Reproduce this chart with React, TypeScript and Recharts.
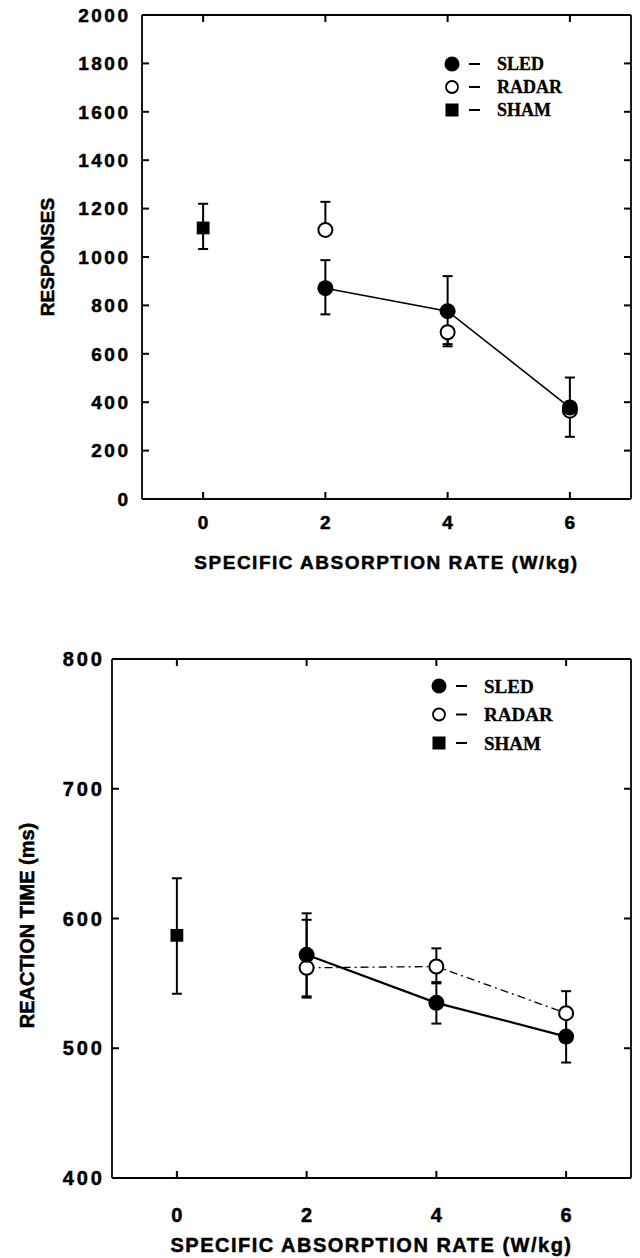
import React from 'react';
import { ComposedChart, Line, XAxis, YAxis, ErrorBar, Legend, ReferenceLine } from 'recharts';

// x axis: specific absorption rate (W/kg)
const sarTicks = [0, 2, 4, 6];
const sarLevels = [2, 4, 6];
const shamLevel = [0];

// top panel: responses
const respTicks = [0, 200, 400, 600, 800, 1000, 1200, 1400, 1600, 1800, 2000];
const respSled = [871, 776, 378];
const respSledLow = [763, 640, 257];
const respSledHigh = [987, 921, 502];
const respRadar = [1112, 689, 365];
const respRadarLow = [1112, 631, 365];
const respRadarHigh = [1228, 689, 365];
const respSham = [1120];
const respShamLow = [1033];
const respShamHigh = [1220];

// bottom panel: reaction time (ms)
const rtTicks = [400, 500, 600, 700, 800];
const rtSled = [572, 535, 509];
const rtSledLow = [540, 519, 489];
const rtSledHigh = [604, 551, 528];
const rtRadar = [562, 563, 527];
const rtRadarLow = [539, 550, 510];
const rtRadarHigh = [599, 577, 544];
const rtSham = [587];
const rtShamLow = [542];
const rtShamHigh = [631];

const legendOrder = ['SLED', 'RADAR', 'SHAM'];
const xDomain: [number, number] = [-1, 7];

const toRows = (xs: number[], ys: number[], lo: number[], hi: number[]) =>
  xs.map((x, i) => ({ x, y: ys[i], err: [ys[i] - lo[i], hi[i] - ys[i]] }));

const sans = '"Liberation Sans", Arial, sans-serif';
const serif = '"Liberation Serif", "Times New Roman", serif';
const axisStroke = { stroke: '#000', strokeWidth: 1.8 };
const TICK_LEN = 7;

const filledDot = (r: number) => (p: any) => (
  <circle key={`f${p.index}`} cx={p.cx} cy={p.cy} r={r} fill="#000" />
);
const openDot = (r: number) => (p: any) => (
  <circle key={`o${p.index}`} cx={p.cx} cy={p.cy} r={r} fill="#fff" stroke="#000" strokeWidth={2} />
);
const squareDot = (s: number) => (p: any) => (
  <rect key={`s${p.index}`} x={p.cx - s / 2} y={p.cy - s / 2} width={s} height={s} fill="#000" />
);

const Marker = ({ name, x, y, r }: { name: string; x: number; y: number; r: number }) => {
  if (name === 'SLED') return <circle cx={x} cy={y} r={r} fill="#000" />;
  if (name === 'RADAR') return <circle cx={x} cy={y} r={r - 1.5} fill="#fff" stroke="#000" strokeWidth={1.8} />;
  return <rect x={x - r + 1} y={y - r + 1} width={2 * r - 2} height={2 * r - 2} fill="#000" />;
};

interface PanelProps {
  top: number;
  height: number;
  marginTop: number;
  yAxisWidth: number;
  xAxisHeight: number;
  yDomain: [number, number];
  yTicks: number[];
  yTitle: string;
  yTitleX: number;
  yTitleShift: number;
  fontSize: number;
  tickSpacing: number;
  yTickMargin: number;
  xTickMargin: number;
  xTitleDy: number;
  sled: any[];
  radar: any[];
  sham: any[];
  radarLine: boolean;
  lineWidth: number;
  dotR: number;
  legendLeft: number;
  legendTop: number;
  legendGap: number;
  legendFont: number;
}

const RIGHT_MARGIN = 8;

const Panel = (c: PanelProps) => {
  const textStyle = {
    fontFamily: sans,
    fontWeight: 700,
    fontSize: c.fontSize,
    fill: '#000',
    stroke: '#000',
    strokeWidth: 0.5,
  };

  // inward tick length expressed in axis units
  const plotW = 640 - c.yAxisWidth - RIGHT_MARGIN - 1;
  const plotH = c.height - c.marginTop - c.xAxisHeight;
  const [y0, y1] = c.yDomain;
  const [x0, x1] = xDomain;
  const dy = ((y1 - y0) * TICK_LEN) / plotH;
  const dx = ((x1 - x0) * TICK_LEN) / plotW;
  const tickSegs: { x: number; y: number }[][] = [
    ...sarTicks.flatMap((t) => [
      [{ x: t, y: y0 }, { x: t, y: y0 + dy }],
      [{ x: t, y: y1 }, { x: t, y: y1 - dy }],
    ]),
    ...c.yTicks.flatMap((v) => [
      [{ x: x0, y: v }, { x: x0 + dx, y: v }],
      [{ x: x1, y: v }, { x: x1 - dx, y: v }],
    ]),
  ];

  const bottomTick = (p: any) => (
    <text key={`b${p.index}`} x={p.x + c.tickSpacing / 2} y={p.y} dy="0.71em" textAnchor="middle" letterSpacing={c.tickSpacing} {...textStyle}>
      {p.payload.value}
    </text>
  );
  const leftTick = (p: any) => (
    <text key={`l${p.index}`} x={p.x + c.tickSpacing} y={p.y} dy="0.36em" textAnchor="end" letterSpacing={c.tickSpacing} {...textStyle}>
      {p.payload.value}
    </text>
  );

  const renderLegend = ({ payload }: any) => {
    const items = [...(payload || [])]
      .filter((a: any) => legendOrder.includes(a.value))
      .sort((a: any, b: any) => legendOrder.indexOf(a.value) - legendOrder.indexOf(b.value));
    return (
      <svg width={170} height={c.legendGap * 3 + 10}>
        {items.map((it: any, i: number) => {
          const y = 14 + i * c.legendGap;
          return (
            <g key={it.value}>
              <Marker name={it.value} x={13} y={y} r={c.dotR - 0.5} />
              <line x1={30} x2={41} y1={y} y2={y} stroke="#000" strokeWidth={2} />
              <text
                x={58}
                y={y}
                dominantBaseline="central"
                fontFamily={serif}
                fontWeight={700}
                fontSize={c.legendFont}
                fill="#000"
                stroke="#000"
                strokeWidth={0.3}
              >
                {it.value}
              </text>
            </g>
          );
        })}
      </svg>
    );
  };

  return (
    <div style={{ position: 'absolute', left: 0, top: c.top }}>
      <ComposedChart
        width={640}
        height={c.height}
        margin={{ top: c.marginTop - 1, right: RIGHT_MARGIN, bottom: 0, left: 0 }}
      >
        <XAxis
          dataKey="x"
          type="number"
          domain={xDomain}
          ticks={sarTicks}
          height={c.xAxisHeight}
          tickSize={0}
          tickMargin={c.xTickMargin}
          axisLine={axisStroke}
          tickLine={false}
          tick={bottomTick}
          allowDataOverflow
          label={{
            content: ({ viewBox }: any) => (
              <text
                x={viewBox.x + viewBox.width / 2}
                y={viewBox.y + c.xTitleDy}
                textAnchor="middle"
                letterSpacing={1.5}
                {...textStyle}
              >
                SPECIFIC ABSORPTION RATE (W/kg)
              </text>
            ),
          }}
        />
        <XAxis
          xAxisId="top"
          orientation="top"
          dataKey="x"
          type="number"
          domain={xDomain}
          ticks={sarTicks}
          height={1}
          axisLine={axisStroke}
          tickLine={false}
          tick={false}
          allowDataOverflow
        />
        <YAxis
          type="number"
          domain={c.yDomain}
          ticks={c.yTicks}
          width={c.yAxisWidth}
          tickSize={0}
          tickMargin={c.yTickMargin}
          axisLine={axisStroke}
          tickLine={false}
          tick={leftTick}
          allowDataOverflow
          label={{
            content: ({ viewBox }: any) => {
              const cy = viewBox.y + viewBox.height / 2 + c.yTitleShift;
              return (
                <text
                  transform={`translate(${c.yTitleX},${cy}) rotate(-90)`}
                  textAnchor="middle"
                  dominantBaseline="central"
                  {...textStyle}
                >
                  {c.yTitle}
                </text>
              );
            },
          }}
        />
        <YAxis
          yAxisId="right"
          orientation="right"
          type="number"
          domain={c.yDomain}
          ticks={c.yTicks}
          width={1}
          axisLine={axisStroke}
          tickLine={false}
          tick={false}
          allowDataOverflow
        />
        <Legend
          content={renderLegend}
          verticalAlign="middle"
          layout="horizontal"
          wrapperStyle={{ left: c.legendLeft, top: c.legendTop, width: 170 }}
        />
        {tickSegs.map((seg, i) => (
          <ReferenceLine
            key={`tick${i}`}
            segment={seg}
            stroke="#000"
            strokeWidth={2}
            ifOverflow="visible"
          />
        ))}
        {/* invisible series so the mirrored top/right axes are drawn as the frame */}
        <Line
          xAxisId="top"
          yAxisId="right"
          data={c.sham}
          dataKey="y"
          stroke="none"
          dot={false}
          activeDot={false}
          legendType="none"
          isAnimationActive={false}
        />
        <Line
          data={c.sham}
          dataKey="y"
          name="SHAM"
          stroke="none"
          dot={squareDot(c.dotR * 1.6)}
          activeDot={false}
          isAnimationActive={false}
        >
          <ErrorBar dataKey="err" width={5} stroke="#000" strokeWidth={2} direction="y" />
        </Line>
        <Line
          data={c.radar}
          dataKey="y"
          name="RADAR"
          stroke={c.radarLine ? '#000' : 'none'}
          strokeWidth={1.3}
          strokeDasharray="8 4 2 4"
          dot={openDot(c.dotR - 1)}
          activeDot={false}
          isAnimationActive={false}
        >
          <ErrorBar dataKey="err" width={5} stroke="#000" strokeWidth={2} direction="y" />
        </Line>
        <Line
          data={c.sled}
          dataKey="y"
          name="SLED"
          stroke="#000"
          strokeWidth={c.lineWidth}
          dot={filledDot(c.dotR)}
          activeDot={false}
          isAnimationActive={false}
        >
          <ErrorBar dataKey="err" width={5} stroke="#000" strokeWidth={2} direction="y" />
        </Line>
      </ComposedChart>
    </div>
  );
};

export default function App() {
  return (
    <div style={{ position: 'absolute', left: 0, top: 0, width: 640, height: 1258, background: '#fff' }}>
      <Panel
        top={0}
        height={590}
        marginTop={15}
        yAxisWidth={142}
        xAxisHeight={91}
        yDomain={[0, 2000]}
        yTicks={respTicks}
        yTitle="RESPONSES"
        yTitleX={47}
        yTitleShift={0}
        fontSize={19}
        tickSpacing={2.5}
        yTickMargin={14}
        xTickMargin={17}
        xTitleDy={70}
        sled={toRows(sarLevels, respSled, respSledLow, respSledHigh)}
        radar={toRows(sarLevels, respRadar, respRadarLow, respRadarHigh)}
        sham={toRows(shamLevel, respSham, respShamLow, respShamHigh)}
        radarLine={false}
        lineWidth={1.6}
        dotR={8}
        legendLeft={439}
        legendTop={50}
        legendGap={23}
        legendFont={18}
      />
      <Panel
        top={600}
        height={658}
        marginTop={59}
        yAxisWidth={112}
        xAxisHeight={80}
        yDomain={[400, 800]}
        yTicks={rtTicks}
        yTitle="REACTION TIME (ms)"
        yTitleX={27}
        yTitleShift={7}
        fontSize={20}
        tickSpacing={3}
        yTickMargin={10}
        xTickMargin={30}
        xTitleDy={74}
        sled={toRows(sarLevels, rtSled, rtSledLow, rtSledHigh)}
        radar={toRows(sarLevels, rtRadar, rtRadarLow, rtRadarHigh)}
        sham={toRows(shamLevel, rtSham, rtShamLow, rtShamHigh)}
        radarLine={true}
        lineWidth={2.2}
        dotR={8}
        legendLeft={426}
        legendTop={72}
        legendGap={28.5}
        legendFont={19}
      />
    </div>
  );
}
